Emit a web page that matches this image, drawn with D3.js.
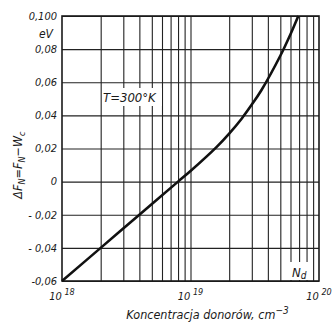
<!DOCTYPE html>
<html>
<head>
<meta charset="utf-8">
<script src="https://cdnjs.cloudflare.com/ajax/libs/d3/7.8.5/d3.min.js"></script>
<style>
  html, body { margin: 0; padding: 0; background: #fff; }
  #chart { width: 335px; height: 331px; }
  text { font-family: "Liberation Sans Narrow", "DejaVu Sans Condensed", "DejaVu Sans", sans-serif; font-style: italic; fill: #1a1a1a; }
</style>
</head>
<body>
<div id="chart"></div>
<script>
// donor concentration, cm^-3
const concentration = [1e18, 2e18, 4e18, 8e18, 1e19, 1.6e19, 2e19, 2.5e19, 3e19, 3.55e19, 5e19, 6e19, 6.9e19];
// Fermi level offset, eV
const deltaF = [-0.06, -0.04, -0.02, 0.0, 0.0064, 0.021, 0.029, 0.038, 0.0465, 0.055, 0.076, 0.089, 0.10];

const yTicks = [-0.06, -0.04, -0.02, 0, 0.02, 0.04, 0.06, 0.08, 0.10];
const yTickLabels = ["-0,06", "- 0,04", "- 0,02", "0", "0,02", "0,04", "0,06", "0,08", "0,100"];
const xGrid = [2e18, 3e18, 4e18, 5e18, 6e18, 7e18, 8e18, 9e18, 1e19,
               2e19, 3e19, 4e19, 5e19, 6e19, 7e19, 8e19, 9e19];
const xTickValues = [1e18, 1e19, 1e20];
const xTickExp = ["18", "19", "20"];

const div = document.getElementById("chart");
const margin = { top: 16, right: 16, bottom: 50, left: 62 };
const width = 335 - margin.left - margin.right;
const height = 331 - margin.top - margin.bottom;

const svg = d3.select(div).append("svg")
    .attr("width", 335).attr("height", 331)
    .append("g").attr("transform", `translate(${margin.left},${margin.top})`);

const x = d3.scaleLog().domain([1e18, 1e20]).range([0, width]);
const y = d3.scaleLinear().domain([-0.06, 0.10]).range([height, 0]);

// vertical gridlines
svg.append("g")
    .call(d3.axisTop(x).tickValues(xGrid).tickSize(-height).tickFormat(""))
    .call(g => g.select(".domain").remove())
    .selectAll("line").attr("stroke", "#222").attr("stroke-width", 1.1);

// horizontal gridlines
svg.append("g")
    .call(d3.axisLeft(y).tickValues(yTicks).tickSize(-width).tickFormat(""))
    .call(g => g.select(".domain").remove())
    .selectAll("line").attr("stroke", "#222").attr("stroke-width", 1.1);

// frame
svg.append("rect")
    .attr("width", width).attr("height", height)
    .attr("fill", "none").attr("stroke", "#1a1a1a").attr("stroke-width", 1.6);

// y tick labels
svg.selectAll(".ylab").data(yTicks).enter().append("text")
    .attr("x", -5).attr("y", d => y(d)).attr("dy", "0.35em")
    .attr("text-anchor", "end").style("font-size", "11px")
    .text((d, i) => yTickLabels[i]);

svg.append("text").attr("x", -9).attr("y", y(0.10) + 22)
    .attr("text-anchor", "end").style("font-size", "12px").text("eV");

// x tick labels
const xl = svg.selectAll(".xlab").data(xTickValues).enter().append("text")
    .attr("x", d => x(d)).attr("y", height + 19)
    .attr("text-anchor", "middle").style("font-size", "11px");
xl.append("tspan").text("10");
xl.append("tspan").attr("dy", -5).style("font-size", "9px").text((d, i) => " " + xTickExp[i]);

// axis titles
svg.append("text")
    .attr("x", width / 2 + 17).attr("y", height + 38)
    .attr("text-anchor", "middle").style("font-size", "12.5px")
    .text("Koncentracja  donorów, cm")
    .append("tspan").attr("dy", -5).style("font-size", "10px").text("−3");

const yt = svg.append("text")
    .attr("transform", `translate(-40,${y(0.01)}) rotate(-90)`)
    .attr("text-anchor", "middle").style("font-size", "12.5px");
yt.append("tspan").text("ΔF");
yt.append("tspan").attr("dy", 3).style("font-size", "9px").text("N");
yt.append("tspan").attr("dy", -3).text("=F");
yt.append("tspan").attr("dy", 3).style("font-size", "9px").text("N");
yt.append("tspan").attr("dy", -3).text("−W");
yt.append("tspan").attr("dy", 3).style("font-size", "9px").text("c");

// annotation boxes
svg.append("rect").attr("x", 40).attr("y", 72).attr("width", 60).attr("height", 18).attr("fill", "#fff");
svg.append("text").attr("x", 41).attr("y", 86).style("font-size", "13px").text("T=300°K");

svg.append("rect").attr("x", 224).attr("y", 246).attr("width", 25).attr("height", 18).attr("fill", "#fff");
const nd = svg.append("text").attr("x", 230).attr("y", 261).style("font-size", "13px");
nd.append("tspan").text("N");
nd.append("tspan").attr("dy", 2).style("font-size", "10px").text("d");

// curve
const pts = concentration.map((c, i) => [c, deltaF[i]]);
const line = d3.line()
    .x(d => x(d[0])).y(d => y(d[1]))
    .curve(d3.curveCatmullRom.alpha(0.5));
svg.append("path").datum(pts)
    .attr("d", line)
    .attr("fill", "none").attr("stroke", "#111").attr("stroke-width", 2.6);
</script>
</body>
</html>
